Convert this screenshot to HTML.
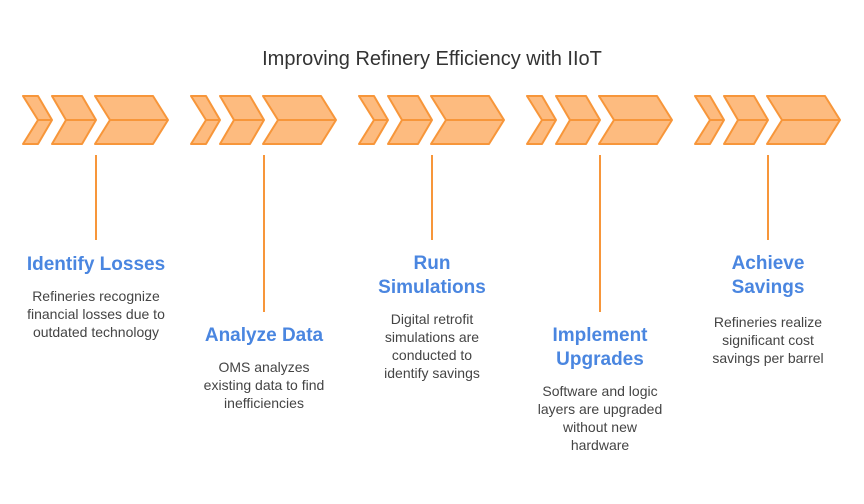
<!DOCTYPE html>
<html><head><style>
body{margin:0;width:864px;height:504px;background:#fff;font-family:"Liberation Sans",sans-serif;position:relative;overflow:hidden}
.t{position:absolute;left:0;width:864px;top:48px;text-align:center;font-size:20px;color:#333}
.c{position:absolute;width:168px;text-align:center}
.h{color:#4a86e0;font-weight:bold;font-size:19px;line-height:24px}
.b{color:#444;font-size:14px;line-height:18px;margin:10px auto 0;width:142px}
</style></head><body>
<svg width="864" height="504" style="position:absolute;left:0;top:0">
<defs><g id="g">
<path d="M0,96H15L29,120L15,144H0L15,120Z"/>
<path d="M29,96H59L73,120L59,144H29L43,120Z"/>
<path d="M72,96H130L145,120L130,144H72L87,120Z"/>
<path d="M15,120H29M43,120H73M87,120H145" fill="none"/>
</g></defs>
<g fill="#fdbb7f" stroke="#f7963a" stroke-width="2" stroke-linejoin="round">
<use href="#g" x="23"/><use href="#g" x="191"/><use href="#g" x="359"/><use href="#g" x="527"/><use href="#g" x="695"/>
</g>
<g stroke="#f7963a" stroke-width="2">
<line x1="96" y1="155" x2="96" y2="240"/><line x1="264" y1="155" x2="264" y2="312"/><line x1="432" y1="155" x2="432" y2="240"/><line x1="600" y1="155" x2="600" y2="312"/><line x1="768" y1="155" x2="768" y2="240"/>
</g>
</svg>
<div class="t">Improving Refinery Efficiency with IIoT</div>
<div class="c" style="left:12px;top:253px"><div class="h">Identify Losses</div><div class="b">Refineries recognize financial losses due to outdated technology</div></div>
<div class="c" style="left:180px;top:324px"><div class="h">Analyze Data</div><div class="b" style="width:130px">OMS analyzes existing data to find inefficiencies</div></div>
<div class="c" style="left:348px;top:252px"><div class="h">Run<br>Simulations</div><div class="b" style="width:120px">Digital retrofit simulations are conducted to identify savings</div></div>
<div class="c" style="left:516px;top:324px"><div class="h">Implement<br>Upgrades</div><div class="b" style="width:135px">Software and logic layers are upgraded without new hardware</div></div>
<div class="c" style="left:684px;top:252px"><div class="h">Achieve<br>Savings</div><div class="b" style="margin-top:13px;width:125px">Refineries realize significant cost savings per barrel</div></div>
</body></html>
